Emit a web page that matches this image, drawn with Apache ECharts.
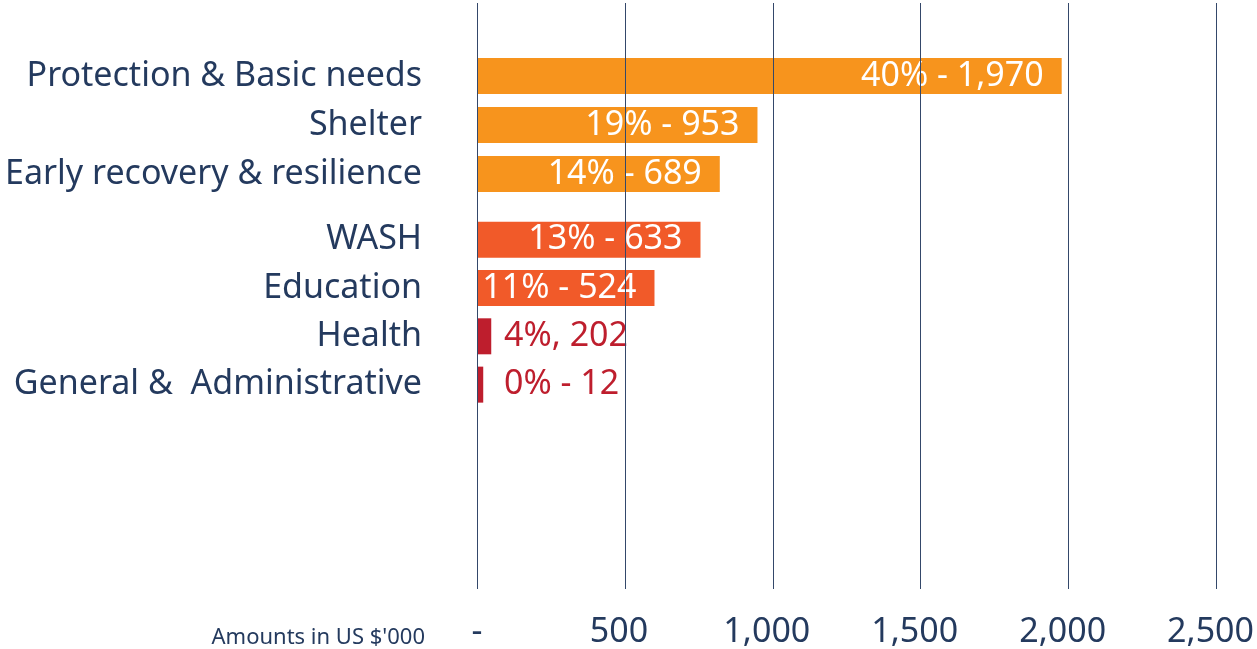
<!DOCTYPE html>
<html>
<head>
<meta charset="utf-8">
<script src="https://cdn.jsdelivr.net/npm/echarts@6/dist/echarts.min.js"></script>
<style>
  html, body { margin: 0; padding: 0; background: #fff; }
  #chart { width: 1257px; height: 649px; }
</style>
</head>
<body>
<div id="chart"></div>
<script>
// sectors, top to bottom
const sectors = [
  'Protection & Basic needs',
  'Shelter',
  'Early recovery & resilience',
  'WASH',
  'Education',
  'Health',
  'General &  Administrative',
]
// bar lengths as drawn (US $'000)
const barValues = [1970, 945, 818, 753, 598, 48, 21]
// printed labels
const barLabels = ['40% - 1,970', '19% - 953', '14% - 689', '13% - 633', '11% - 524', '4%, 202', '0% - 12']
const tickValues = [0, 500, 1000, 1500, 2000, 2500]
const tickLabels = ['-', '500', '1,000', '1,500', '2,000', '2,500']
const axisNote = "Amounts in US $'000"
// first block of sectors, drawn a bit apart from the rest
const firstGroupSize = 3

const FONT = 'Noto Sans'
const NAVY = '#243a5e'
const barColors = ['#f7941d', '#f7941d', '#f7941d', '#f15a29', '#f15a29', '#be1e2d', '#be1e2d']

const plotLeft = 477
const plotRight = 38

const hiddenValueAxis = (gridIndex) => ({
  gridIndex,
  type: 'value',
  min: tickValues[0],
  max: tickValues[tickValues.length - 1],
  interval: 500,
  show: false,
})

const categoryAxis = (gridIndex, names) => ({
  gridIndex,
  type: 'category',
  inverse: true,
  data: names,
  axisLine: { show: false },
  axisTick: { show: false },
  axisLabel: {
    margin: 55,
    color: NAVY,
    fontFamily: FONT,
    fontSize: 34,
  },
})

const makeSeries = (from, to, axisIndex) => ({
  type: 'bar',
  xAxisIndex: axisIndex,
  yAxisIndex: axisIndex,
  barWidth: 36,
  data: barValues.slice(from, to).map((value, i) => {
    const k = from + i
    // short bars get their label written past the bar end
    const outside = value < 100
    return {
      value,
      itemStyle: { color: barColors[k] },
      label: {
        position: outside ? 'insideLeft' : 'insideRight',
        distance: outside ? 27 : 18,
        color: outside ? barColors[k] : '#fff',
      },
    }
  }),
  label: {
    show: true,
    fontFamily: FONT,
    fontSize: 34,
    formatter: ({ dataIndex }) => barLabels[from + dataIndex],
  },
})

const option = {
  animation: false,
  grid: [
    // grid lines + value labels
    { left: plotLeft, right: plotRight, top: 3, bottom: 59 },
    // first group of bars
    { left: plotLeft, right: plotRight, top: 51.5, height: 147 },
    // second group of bars
    { left: plotLeft, right: plotRight, top: 215.5, height: 193.3 },
  ],
  xAxis: [
    {
      gridIndex: 0,
      type: 'value',
      min: tickValues[0],
      max: tickValues[tickValues.length - 1],
      interval: 500,
      z: 3,
      axisLine: { show: false },
      axisTick: { show: false },
      splitLine: { show: true, lineStyle: { color: '#34486a', width: 1 } },
      axisLabel: {
        margin: 26,
        padding: [0, 12, 0, 0],
        color: NAVY,
        fontFamily: FONT,
        fontSize: 34,
        formatter: (v) => {
          const text = tickLabels[tickValues.indexOf(v)]
          return v === 0 ? `{dash|${text}}` : text
        },
        rich: {
          dash: { padding: [0, 0, 0, 12], fontFamily: FONT, fontSize: 34, color: NAVY },
        },
      },
    },
    hiddenValueAxis(1),
    hiddenValueAxis(2),
  ],
  yAxis: [
    { gridIndex: 0, type: 'value', show: false },
    categoryAxis(1, sectors.slice(0, firstGroupSize)),
    categoryAxis(2, sectors.slice(firstGroupSize)),
  ],
  graphic: [
    {
      type: 'text',
      x: 425,
      y: 638,
      style: {
        text: axisNote,
        fontFamily: FONT,
        fontSize: 22,
        fill: NAVY,
        align: 'right',
        verticalAlign: 'middle',
      },
    },
  ],
  series: [
    makeSeries(0, firstGroupSize, 1),
    makeSeries(firstGroupSize, sectors.length, 2),
  ],
}

const chart = echarts.init(document.getElementById('chart'))
chart.setOption(option)
</script>
</body>
</html>
